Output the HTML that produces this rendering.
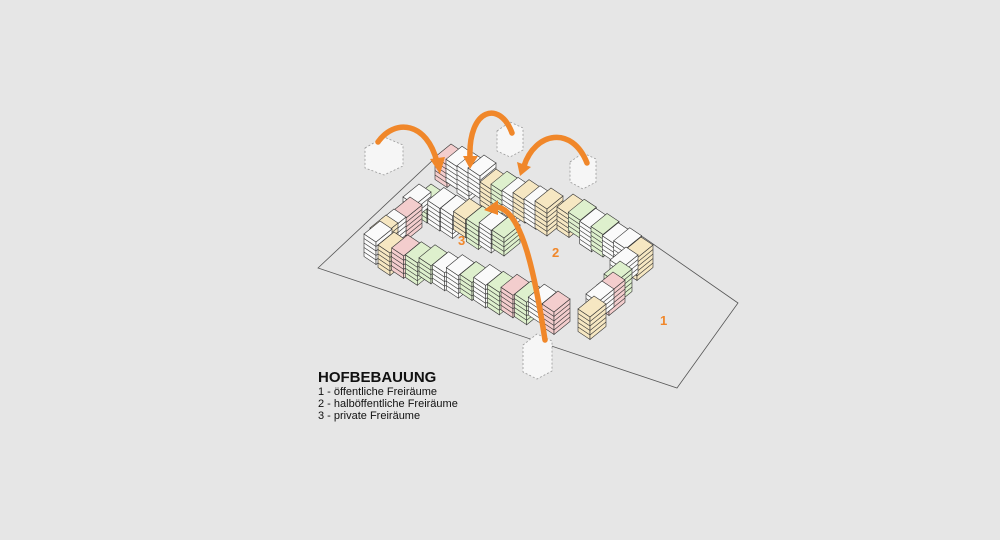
<!DOCTYPE html>
<html><head><meta charset="utf-8"><style>
html,body{margin:0;padding:0;background:#e6e6e6;}
svg{display:block;}
</style></head><body>
<svg id="s" width="1000" height="540" viewBox="0 0 1000 540" xmlns="http://www.w3.org/2000/svg">
<rect width="1000" height="540" fill="#e6e6e6"/>
<polygon points="318,268 433,160 643,237 738,303 677,388" fill="none" stroke="#555" stroke-width="0.8"/>
<g id="hex" fill="#f6f6f6" stroke="#999" stroke-width="0.8" stroke-dasharray="2,2">
<polygon points="365,148 384,137 403,145 403,166 384,175 365,168"/>
<polygon points="497,131 510,122 523,128 523,150 510,157 497,151"/>
<polygon points="570,162 583,153 596,159 596,182 583,189 570,182"/>
<polygon points="523,345 537,334 552,341 552,371 537,379 523,372"/>
</g>
<g id="b"></g>
<g fill="#f0872a" font-family="Liberation Sans, sans-serif" font-weight="bold" font-size="13">
<text x="458" y="245">3</text><text x="552" y="257">2</text><text x="660" y="325">1</text>
</g>
<g fill="none" stroke="#f0872a" stroke-width="5.5" stroke-linecap="round">
<path d="M378,142 C395,118 427,122 437,162"/>
<path d="M512,133 C500,100 468,108 470,158"/>
<path d="M587,163 C572,125 535,132 524,166"/>
<path d="M545,340 C535,275 522,210 497,207"/>
</g>
<g fill="#f0872a">
<polygon points="430,159 445,157 440,174"/>
<polygon points="463,156 478,156 470,169"/>
<polygon points="517,162 531,167 520,176"/>
<polygon points="498,200 498,215 484,210"/>
</g>
<g font-family="Liberation Sans, sans-serif" fill="#111">
<text x="318" y="382" font-size="15" font-weight="bold">HOFBEBAUUNG</text>
<text x="318" y="395" font-size="11">1 - öffentliche Freiräume</text>
<text x="318" y="407" font-size="11">2 - halböffentliche Freiräume</text>
<text x="318" y="419" font-size="11">3 - private Freiräume</text>
</g>
</svg>
<script>
var C={W:"#fafafa",P:"#f3cdcd",G:"#def0cd",Y:"#f6e7c2"};
var L=[];
function row(x0,y0,x1,y1,cols,fl){var n=cols.length;for(var i=0;i<n;i++){var t=n>1?i/(n-1):0;L.push([x0+(x1-x0)*t,y0+(y1-y0)*t+(i%2?-2:0),cols[i],fl[i%fl.length]]);}}
row(435,157,468,170,["P","W","W","W"],[5,5,6]);
row(480,182,535,203,["Y","G","W","Y","W","Y"],[5,5,6]);
row(557,207,625,250,["Y","G","W","G","W","W","Y"],[5,4,5]);
row(415,197,492,230,["G","W","W","Y","G","W","G"],[4,5,5]);
L.push([403,197,"W",3],[394,210,"P",5],[378,222,"W",4],[364,234,"W",5],[370,228,"Y",3]);
row(378,245,542,304,["Y","P","G","G","W","W","G","W","G","P","G","W","P"],[5,5,5,4,4,5,4,5,5,5,5,4,5]);
L.push([610,260,"W",4],[604,274,"G",5],[597,285,"P",5],[586,294,"W",4],[578,309,"Y",5]);
L.sort(function(a,b){return a[1]-b[1];});
var s="";
function p(a){return a.map(function(q){return q[0].toFixed(1)+","+q[1].toFixed(1)}).join(" ");}
L.forEach(function(b){var x=b[0],y=b[1],c=C[b[2]],n=b[3],f=4.5,h=n*f;
var A=[x,y],B=[x+16,y-13],Cc=[x+28,y-5],D=[x+12,y+8];
var st=' stroke="#333" stroke-width="0.6" ';
s+='<polygon points="'+p([A,D,[D[0],D[1]+h],[A[0],A[1]+h]])+'" fill="'+c+'"'+st+'/>';
s+='<polygon points="'+p([D,Cc,[Cc[0],Cc[1]+h],[D[0],D[1]+h]])+'" fill="'+c+'"'+st+'/>';
for(var k=1;k<n;k++){var d=k*f;s+='<polyline points="'+p([[A[0],A[1]+d],[D[0],D[1]+d],[Cc[0],Cc[1]+d]])+'" fill="none"'+st+'/>';}
s+='<polygon points="'+p([A,B,Cc,D])+'" fill="'+c+'"'+st+'/>';});
document.getElementById("b").innerHTML=s;
</script>
</body></html>
